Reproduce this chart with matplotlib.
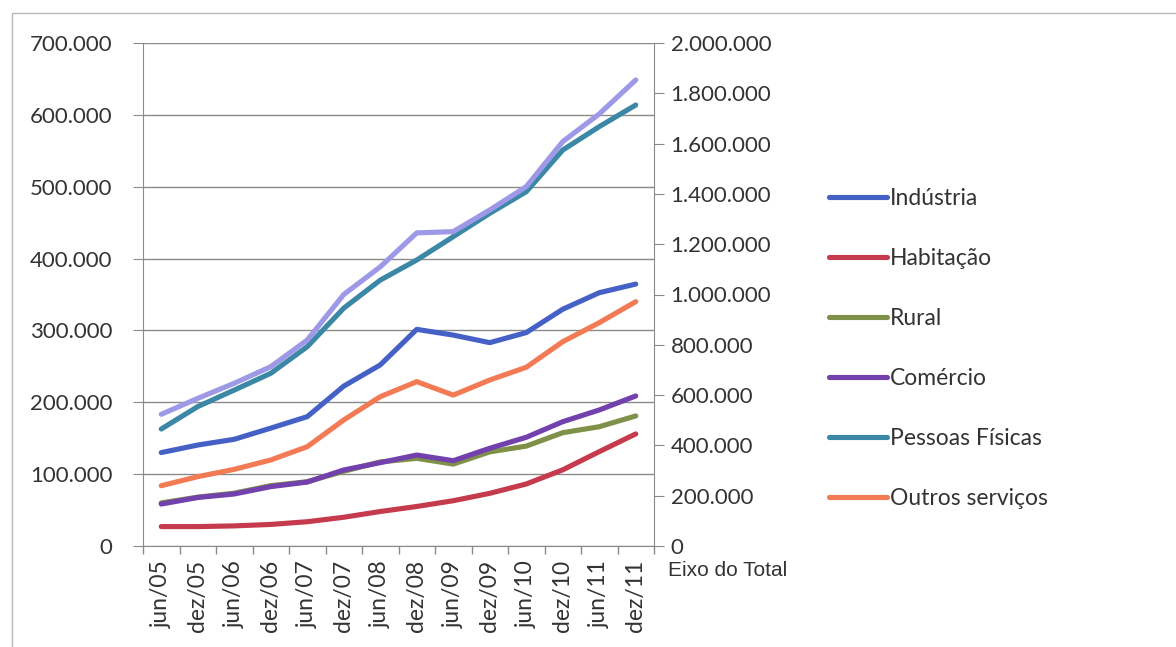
import matplotlib.pyplot as plt
from matplotlib.patches import Rectangle
from matplotlib.ticker import FuncFormatter, FixedLocator, NullFormatter

periodos = ["jun/05", "dez/05", "jun/06", "dez/06", "jun/07", "dez/07", "jun/08",
            "dez/08", "jun/09", "dez/09", "jun/10", "dez/10", "jun/11", "dez/11"]

industria = [130000, 140500, 148500, 164000, 180000, 222500, 252000,
             301500, 293500, 283000, 297000, 329500, 352500, 364500]
habitacao = [27000, 27000, 28000, 30000, 33800, 40000, 48000,
             55000, 63000, 73300, 86300, 106000, 131300, 156000]
rural = [60000, 68000, 73500, 84000, 89500, 104000, 117000,
         122000, 114000, 131000, 139000, 157700, 166000, 181000]
comercio = [58400, 67500, 72400, 82600, 89000, 105800, 116000,
            126600, 118700, 136000, 151300, 173000, 189300, 208800]
pessoas_fisicas = [162800, 194000, 217000, 240300, 277400, 331000, 370000,
                   398000, 430500, 463000, 493000, 551000, 583600, 613700]
outros_servicos = [83900, 96500, 106700, 119700, 138200, 175400, 207800,
                   228700, 210000, 231000, 248700, 284300, 310800, 340000]
total = [523600, 587000, 647000, 713000, 819000, 1000000, 1110000,
         1245000, 1250000, 1336000, 1429000, 1608000, 1718000, 1853000]

series = [
    ("Indústria", industria, "#4561c6"),
    ("Habitação", habitacao, "#c63a4e"),
    ("Rural", rural, "#7f9148"),
    ("Comércio", comercio, "#7241ad"),
    ("Pessoas Físicas", pessoas_fisicas, "#3a88a6"),
    ("Outros serviços", outros_servicos, "#f27a55"),
]
cor_total = "#9d99e6"

plt.rcParams['font.family'] = ['Lato', 'DejaVu Sans']


def milhar(v, pos):
    return f"{int(round(v)):,}".replace(",", ".")


fig = plt.figure(figsize=(11.76, 6.47), dpi=100)
fig.patches.append(Rectangle((12 / 1176, -0.1), 1.2, 1 - 13 / 647 + 0.1,
                             transform=fig.transFigure, fill=False,
                             edgecolor="#b8b8b8", linewidth=1.0))

ax = fig.add_axes([143 / 1176, 1 - 546 / 647, 511 / 1176, 503 / 647])
x = list(range(len(periodos)))

for nome, valores, cor in series:
    ax.plot(x, valores, color=cor, linewidth=3.7, label=nome,
            solid_capstyle="round", solid_joinstyle="round")

ax.set_xlim(-0.5, len(periodos) - 0.5)
ax.set_ylim(0, 700000)
ax.set_yticks(range(0, 700001, 100000))
ax.yaxis.set_major_formatter(FuncFormatter(milhar))
ax.grid(axis="y", color="#8a8a8a", linewidth=1.0)
ax.set_axisbelow(True)

ax.set_xticks(x)
ax.set_xticklabels(periodos, rotation=90, fontsize=16.5, color="#333333")
ax.xaxis.set_minor_locator(FixedLocator([i - 0.5 for i in range(len(periodos) + 1)]))
ax.xaxis.set_minor_formatter(NullFormatter())
ax.tick_params(axis="x", which="major", length=0, pad=10)
ax.tick_params(axis="x", which="minor", length=6, color="#8a8a8a", width=1.0)
ax.tick_params(axis="y", length=7, pad=15, color="#8a8a8a", labelsize=16,
               labelcolor="#333333")

for lado in ["left", "right", "bottom"]:
    ax.spines[lado].set_color("#8a8a8a")
ax.spines["top"].set_visible(False)

ax2 = ax.twinx()
ax2.plot(x, total, color=cor_total, linewidth=3.7,
         solid_capstyle="round", solid_joinstyle="round")
ax2.set_ylim(0, 2000000)
ax2.set_yticks(range(0, 2000001, 200000))
ax2.yaxis.set_major_formatter(FuncFormatter(milhar))
ax2.tick_params(axis="y", length=7, pad=5, color="#8a8a8a", labelsize=16,
                labelcolor="#333333")
for lado in ["left", "right", "bottom", "top"]:
    ax2.spines[lado].set_visible(False)
ax.spines["right"].set_visible(True)

fig.text(668 / 1176, 1 - 571 / 647, "Eixo do Total", family="Liberation Sans",
         fontsize=15, color="#333333", va="center", ha="left")

handles, labels = ax.get_legend_handles_labels()
leg = fig.legend(handles, labels, loc="center left",
                 bbox_to_anchor=(829 / 1176, 1 - 348.5 / 647),
                 frameon=False, fontsize=16.5, labelspacing=1.7,
                 handlelength=2.55, handletextpad=0.1,
                 borderpad=0, borderaxespad=0)
for t in leg.get_texts():
    t.set_color("#333333")

fig.savefig("out.png", dpi=100, facecolor="white")
